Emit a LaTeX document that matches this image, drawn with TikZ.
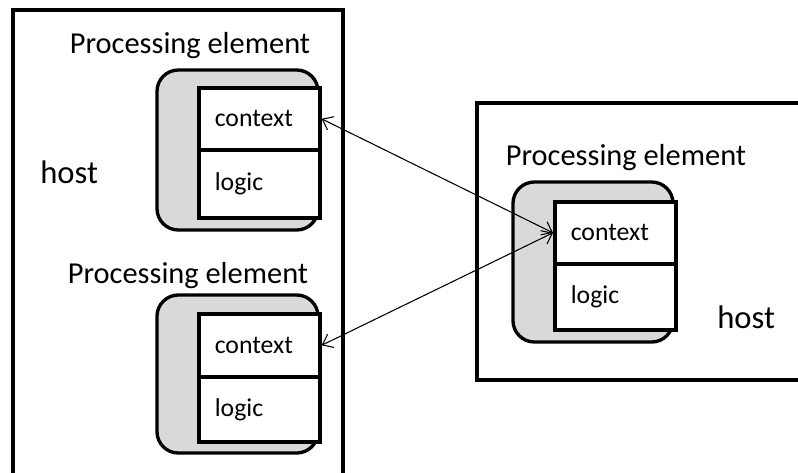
\documentclass[tikz,border=0pt]{standalone}
\usepackage{fontspec}
\setmainfont{Carlito}
\usetikzlibrary{arrows.meta}
\begin{document}
\begin{tikzpicture}[x=0.75pt,y=-0.75pt,
  hostbox/.style={draw, line width=2.7pt, fill=white},
  pebody/.style={draw, line width=2.5pt, fill=black!15, rounded corners=16pt, inner sep=0pt},
  cell/.style={draw, line width=2.7pt, fill=white, minimum height=#1, text width=66.75pt,
    inner xsep=12pt, inner ysep=0pt, align=left, anchor=north west,
    font=\fontsize{19.3}{22}\selectfont},
  petitle/.style={anchor=base, inner sep=0pt, font=\fontsize{22.8}{26}\selectfont},
  hosttext/.style={anchor=base west, inner sep=0pt, font=\fontsize{24.5}{28}\selectfont},
  tip/.tip={Straight Barb[length=7pt,width=11pt]},
  link/.style={line width=0.8pt, tip-tip}
]
\useasboundingbox (0,0) rectangle (798,472);
\clip (0,0) rectangle (798,472);

% the two hosts
\draw[hostbox] (13,10) rectangle (343,490);
\draw[hostbox] (477,103) rectangle (812,380);
\node[hosttext] (h1) at (40,183) {host};
\node[hosttext] (h2) at (717,328) {host};

% processing element, upper left
\node[petitle] (t1) at (190,53) {Processing element};
\node[pebody, minimum width=120.75pt, minimum height=120pt] (pe1) at (237.5,150) {};
\node[cell=46.5pt] (c1) at (197,86) {context};
\node[cell=51pt] (l1) at (197,148) {logic};

% processing element, lower left
\node[petitle] (t2) at (188,283) {Processing element};
\node[pebody, minimum width=120.75pt, minimum height=118.5pt] (pe2) at (237.5,374) {};
\node[cell=47.25pt] (c2) at (197,312) {context};
\node[cell=48.75pt] (l2) at (197,375) {logic};

% processing element, right
\node[petitle] (t3) at (626,165) {Processing element};
\node[pebody, minimum width=120pt, minimum height=120pt] (pe3) at (593,262) {};
\node[cell=46.5pt] (c3) at (553,200) {context};
\node[cell=49.5pt] (l3) at (553,262) {logic};

% context exchange
\draw[link] (c1.east) -- (c3.west);
\draw[link] (c2.east) -- (c3.west);
\end{tikzpicture}
\end{document}
